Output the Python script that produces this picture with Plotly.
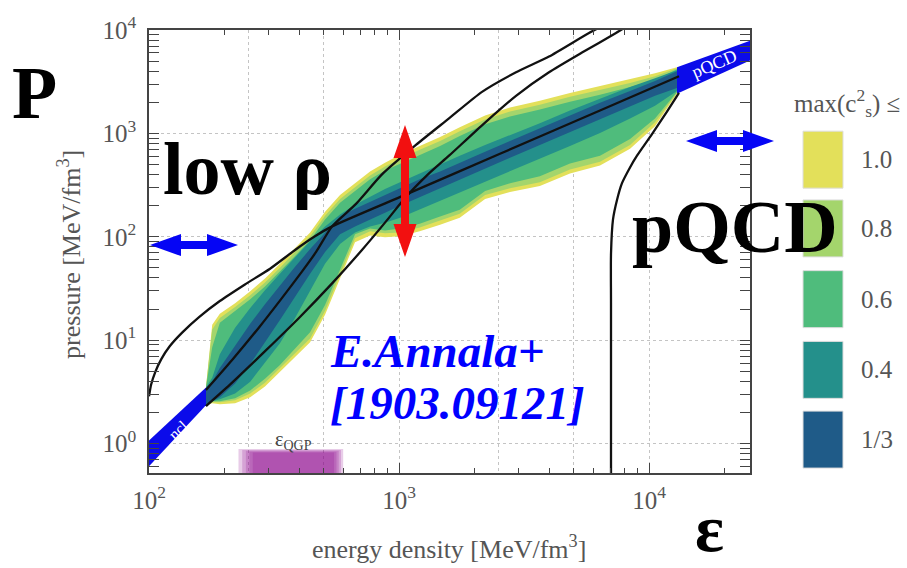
import plotly.graph_objects as go

# ---------------- data (energy density eps and pressure P, both in MeV/fm^3) ----------------
band_eps = [169, 179, 192, 221, 254, 291, 334, 384, 441, 506, 581, 667, 766, 879, 1010, 1210,
            1460, 1750, 2210, 2780, 3660, 4830, 6370, 8400, 10570, 12940]

yellow_hi = [3.48, 14.1, 18.0, 22.8, 29.7, 39.5, 54.8, 77.7, 110, 175, 253, 329, 428, 521, 621, 757,
             921, 1147, 1491, 1776, 2069, 2465, 2873, 3349, 3819, 4355]
yellow_lo = [2.35, 2.45, 2.40, 2.45, 2.80, 3.56, 4.83, 6.86, 9.52, 17.6, 39.5, 88.7, 103, 98.9, 101, 113,
             131, 153, 232, 271, 309, 410, 488, 709, 1172, 2412]
lgreen_hi = [3.48, 12.7, 16.4, 20.9, 27.2, 36.2, 50.2, 71.2, 101, 160, 232, 302, 392, 478, 569, 693,
             844, 1050, 1366, 1627, 1896, 2259, 2633, 3068, 3576, 4261]
lgreen_lo = [2.35, 2.51, 2.51, 2.62, 3.05, 3.88, 5.27, 7.48, 10.4, 19.2, 43.1, 96.8, 113, 108, 110, 123,
             143, 167, 253, 295, 337, 448, 533, 773, 1279, 2465]
green_hi = [3.48, 8.53, 14.7, 19.2, 24.9, 33.1, 46.0, 65.3, 92.6, 147, 213, 277, 360, 438, 510, 621,
            757, 942, 1224, 1458, 1700, 2024, 2360, 2811, 3276, 4169]
green_lo = [2.35, 2.56, 2.56, 2.74, 3.26, 4.24, 5.76, 8.35, 11.9, 21.9, 48.1, 106, 120, 115, 120, 134,
            157, 183, 277, 329, 384, 510, 608, 882, 1396, 2520]
teal_hi = [3.48, 4.33, 7.32, 13.2, 20.5, 30.4, 44.0, 63.9, 90.6, 126, 164, 204, 243, 289, 337, 410,
           499, 608, 773, 963, 1252, 1663, 2162, 2811, 3423, 4079]
teal_lo = [2.35, 2.56, 2.68, 3.05, 3.97, 6.01, 9.31, 16.4, 29.7, 54.8, 84.9, 110, 126, 137, 153, 183,
           222, 265, 337, 428, 569, 757, 1006, 1396, 1855, 2576]
dark_hi = [3.48, 3.97, 5.39, 8.91, 14.4, 22.3, 33.9, 51.3, 76.1, 110, 157, 187, 217, 253, 295, 360,
           428, 521, 664, 844, 1122, 1491, 1981, 2576, 3205, 3990]
dark_lo = [2.35, 2.56, 2.80, 3.80, 5.88, 9.52, 15.7, 26.0, 44.0, 71.2, 106, 126, 147, 171, 199, 243,
           295, 360, 457, 582, 773, 1028, 1366, 1815, 2309, 2751]

band_labels = ["1.0", "0.8", "0.6", "0.4", "1/3"]

curveA_eps = [100, 102, 106, 112, 121, 136, 159, 192, 242, 305, 384, 461, 540, 1057, 2535, 6368, 13180]
curveA_P = [2.86, 3.72, 4.94, 6.56, 8.73, 11.9, 16.8, 23.9, 34.6, 49.1, 74.5, 101, 126, 254, 635, 1663, 3575]

curveB_eps = [169, 215, 275, 340, 409, 466, 540, 673, 855, 1169, 1585, 2148, 2938, 3981, 5754, 6982]
curveB_P = [3.3, 6.43, 13.2, 25.5, 46.0, 71.3, 126, 208, 401, 773, 1396, 2520, 3901, 5537, 9360, 11900]

curveC_eps = [169, 215, 294, 398, 540, 711, 879, 1057, 1306, 1585, 2148, 2938, 3981, 5395, 7379, 9204]
curveC_P = [2.30, 3.88, 8.00, 16.4, 35.4, 74.5, 137, 237, 401, 608, 1197, 2309, 3901, 6045, 9360, 13000]

curveD_eps = [7047, 7047, 7047, 7178, 7447, 7798, 8395, 8954, 10280, 11800, 13180]
curveD_P = [0.3, 22.9, 68.2, 147, 227, 330, 468, 608, 984, 1627, 2466]

ncl_eps = [100, 169, 169, 100]
ncl_P = [1.07, 3.48, 2.35, 0.604]

pqcd_eps = [12940, 25350, 25350, 12940]
pqcd_P = [4355, 7850, 5073, 2412]

# eps_QGP band, drawn as nested soft layers
qgp_eps_lo = [228, 236, 244, 252, 260]
qgp_eps_hi = [598, 586, 574, 562, 550]
qgp_P_top = [0.885, 0.865, 0.85, 0.835, 0.82]
qgp_P_bottom = 0.3

x_major = [100, 1000, 10000]
x_major_text = ["10<sup>2</sup>", "10<sup>3</sup>", "10<sup>4</sup>"]
x_minor = [200, 300, 400, 500, 600, 700, 800, 900, 2000, 3000, 4000, 5000, 6000, 7000, 8000, 9000, 20000]
x_grid = [250, 500, 1000, 2500, 5000, 10000]
y_major = [1, 10, 100, 1000, 10000]
y_major_text = ["10<sup>0</sup>", "10<sup>1</sup>", "10<sup>2</sup>", "10<sup>3</sup>", "10<sup>4</sup>"]
y_minor = [0.6, 0.7, 0.8, 0.9, 2, 3, 4, 5, 6, 7, 8, 9, 20, 30, 40, 50, 60, 70, 80, 90,
           200, 300, 400, 500, 600, 700, 800, 900, 2000, 3000, 4000, 5000, 6000, 7000, 8000, 9000]

# ---------------- styling ----------------
SERIF = "Liberation Serif"
band_colors = ["#e3e05a", "#a4d56c", "#4fbc7c", "#24908b", "#1f5b88"]
BLUE = "#0b0bea"

fig = go.Figure()

bands = [(yellow_hi, yellow_lo), (lgreen_hi, lgreen_lo), (green_hi, green_lo),
         (teal_hi, teal_lo), (dark_hi, dark_lo)]
for (hi, lo), col in zip(bands, band_colors):
    fig.add_trace(go.Scatter(
        x=band_eps + band_eps[::-1], y=hi + lo[::-1],
        fill="toself", fillcolor=col, mode="lines", line=dict(width=0, color=col),
        hoverinfo="skip", showlegend=False))

# QGP band (soft edges)
for lo, hi, top in zip(qgp_eps_lo, qgp_eps_hi, qgp_P_top):
    fig.add_trace(go.Scatter(
        x=[lo, hi, hi, lo], y=[qgp_P_bottom, qgp_P_bottom, top, top],
        fill="toself", fillcolor="rgba(140,0,140,0.2)", mode="lines",
        line=dict(width=0), hoverinfo="skip", showlegend=False))

# ncl and pQCD bands
for ex, py in [(ncl_eps, ncl_P), (pqcd_eps, pqcd_P)]:
    fig.add_trace(go.Scatter(x=ex, y=py, fill="toself", fillcolor=BLUE, mode="lines",
                             line=dict(width=0, color=BLUE), hoverinfo="skip", showlegend=False))

# black example EoS curves
for ex, py in [(curveA_eps, curveA_P), (curveB_eps, curveB_P), (curveC_eps, curveC_P), (curveD_eps, curveD_P)]:
    fig.add_trace(go.Scatter(x=ex, y=py, mode="lines",
                             line=dict(color="#111111", width=2.3, shape="spline", smoothing=0.6),
                             hoverinfo="skip", showlegend=False))

# dummy trace to host the grid axis
fig.add_trace(go.Scatter(x=[None], y=[None], xaxis="x2", yaxis="y", showlegend=False, hoverinfo="skip"))

axis_common = dict(type="log", showline=True, linecolor="#444", linewidth=1.5, mirror="allticks",
                   ticks="inside", ticklen=10, tickwidth=1.2, tickcolor="#444",
                   tickfont=dict(family=SERIF, size=25, color="#555"), zeroline=False)

fig.update_layout(
    width=907, height=568, autosize=False,
    margin=dict(l=149, r=157, t=22, b=95),
    paper_bgcolor="white", plot_bgcolor="white",
    xaxis=dict(range=[2, 4.404], tickvals=x_major, ticktext=x_major_text, showgrid=False,
               minor=dict(tickvals=x_minor, ticks="inside", ticklen=5, tickcolor="#444", showgrid=False),
               ticklabelstandoff=4, **axis_common),
    xaxis2=dict(type="log", range=[2, 4.404], overlaying="x", anchor="y", tickvals=x_grid,
                showgrid=True, gridcolor="#c4c4c4", griddash="dot", gridwidth=1.2,
                ticks="", showticklabels=False, showline=False, zeroline=False),
    yaxis=dict(range=[-0.285, 4], tickvals=y_major, ticktext=y_major_text,
               showgrid=True, gridcolor="#c4c4c4", griddash="dot", gridwidth=1.2,
               minor=dict(tickvals=y_minor, ticks="inside", ticklen=5, tickcolor="#444", showgrid=False),
               ticklabelstandoff=6, **axis_common),
    showlegend=False,
)

def px2paper(px, py):
    return (px - 149) / 601.0, (473 - py) / 451.0

ann = []
def add_text(text, px, py, size, color="black", bold=False, italic=False, xanchor="center",
             angle=0, family=SERIF):
    x, y = px2paper(px, py)
    t = text
    if bold:
        t = "<b>" + t + "</b>"
    if italic:
        t = "<i>" + t + "</i>"
    ann.append(dict(text=t, x=x, y=y, xref="paper", yref="paper", xanchor=xanchor, yanchor="middle",
                    showarrow=False, textangle=angle, font=dict(family=family, size=size, color=color)))

# axis titles
add_text("energy density [MeV/fm<sup>3</sup>]", 449, 549, 26, color="#555")
add_text("pressure [MeV/fm<sup>3</sup>]", 70, 251, 26, color="#555", angle=-90)

# band labels
add_text("ncl.", 180, 428, 16, color="white", angle=-43)
add_text("pQCD", 714, 57, 18, color="white", angle=-23)
add_text("ε<sub>QGP</sub>", 293, 440, 20, color="#444")

# big annotation texts
add_text("P", 34, 86, 74, bold=True)
add_text("low ρ", 247, 164, 74, bold=True)
add_text("pQCD", 735, 223, 74, bold=True)
add_text("ε", 709, 529, 68, bold=True)
add_text("E.Annala+", 328, 349, 47, color="#0000ff", bold=True, italic=True, xanchor="left")
add_text("[1903.09121]", 328, 402, 47, color="#0000ff", bold=True, italic=True, xanchor="left")

# colour legend
add_text("max(c<sup>2</sup><sub>s</sub>) ≤", 792, 96, 25, color="#555", xanchor="left")
sq_tops = [125, 195, 267, 339, 410]
shapes = []
for lab, col, top in zip(band_labels, band_colors, sq_tops):
    x0, y0 = px2paper(803, top)
    x1, y1 = px2paper(843, top + 58)
    shapes.append(dict(type="rect", xref="paper", yref="paper", x0=x0, x1=x1, y0=y1, y1=y0,
                       fillcolor=col, line=dict(color="#dddddd", width=1), layer="above"))
    add_text(lab, 859, top + 29, 25, color="#555", xanchor="left")

# arrows (pixel-sized paths anchored in paper coordinates)
h_arrow = "M-44,0 L-13,11 L-13,4 L13,4 L13,11 L44,0 L13,-11 L13,-4 L-13,-4 L-13,-11 Z"
v_arrow = "M0,66 L11.5,33 L4,33 L4,-33 L11.5,-33 L0,-66 L-11.5,-33 L-4,-33 L-4,33 L-11.5,33 Z"
for path, (px, py), col in [(h_arrow, (194, 241), "#0505f5"), (h_arrow, (730, 135), "#0505f5"),
                            (v_arrow, (405, 186), "#f21010")]:
    xa, ya = px2paper(px, py)
    shapes.append(dict(type="path", xref="paper", yref="paper", xsizemode="pixel", ysizemode="pixel",
                       xanchor=xa, yanchor=ya, path=path, fillcolor=col, line=dict(width=0),
                       layer="above"))

fig.update_layout(annotations=ann, shapes=shapes)
fig.write_html("out.html")
